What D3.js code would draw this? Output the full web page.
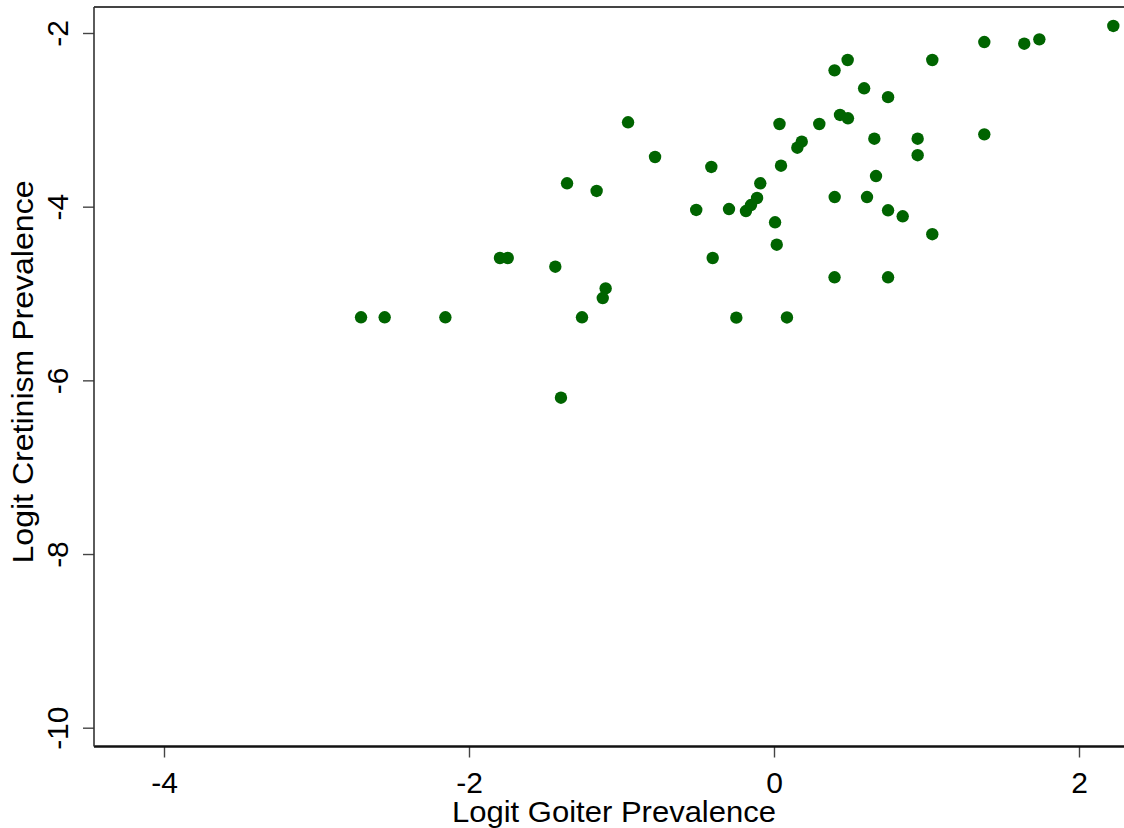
<!DOCTYPE html>
<html>
<head>
<meta charset="utf-8">
<script src="https://cdn.jsdelivr.net/npm/d3@7"></script>
<style>
  html, body { margin: 0; padding: 0; background: #fff; }
  svg { display: block; }
  text { font-family: "Liberation Sans", Arial, sans-serif; fill: #000; }
</style>
</head>
<body>
<svg id="chart" width="1124" height="828"></svg>
<script>
// Data (logit goiter prevalence, logit cretinism prevalence)
const goiter = [
  -2.708, -2.553, -2.155, -1.797, -1.746, -1.434, -1.357, -1.163, -1.104, -1.123,
  -1.259, -1.397, -0.957, -0.780, -0.510, -0.411, -0.402, -0.295, -0.247, -0.184,
  -0.151, -0.111, -0.090, 0.007, 0.018, 0.036, 0.046, 0.085, 0.153, 0.182,
  0.297, 0.397, 0.483, 0.433, 0.485, 0.398, 0.397, 0.591, 0.658, 0.669,
  0.610, 0.748, 0.748, 0.748, 0.844, 0.942, 0.942, 1.038, 1.038, 1.379,
  1.379, 1.641, 1.740, 2.225
];
const cretinism = [
  -5.274, -5.274, -5.274, -4.591, -4.591, -4.691, -3.731, -3.819, -4.942, -5.052,
  -5.274, -6.200, -3.028, -3.428, -4.038, -3.543, -4.591, -4.027, -5.278, -4.050,
  -3.981, -3.900, -3.731, -4.180, -4.438, -3.048, -3.528, -5.276, -3.321, -3.252,
  -3.048, -2.430, -2.311, -2.944, -2.982, -3.889, -4.813, -2.637, -3.217, -3.647,
  -3.889, -2.739, -4.042, -4.813, -4.111, -3.217, -3.407, -2.311, -4.317, -2.104,
  -3.167, -2.123, -2.073, -1.919
];
const xTicks = [-4, -2, 0, 2];
const yTicks = [-2, -4, -6, -8, -10];
const xTitle = "Logit Goiter Prevalence";
const yTitle = "Logit Cretinism Prevalence";

const svg = d3.select("#chart");
const pLeft = 94, pRight = 1124, pTop = 7, pBottom = 746.5;

const x = d3.scaleLinear().domain([-4, 2]).range([164, 1079]);
const y = d3.scaleLinear().domain([-2, -10]).range([33, 727.7]);

// frame: top border
svg.append("line")
  .attr("x1", pLeft).attr("x2", pRight).attr("y1", pTop).attr("y2", pTop)
  .attr("stroke", "#444").attr("stroke-width", 1.8);

// x axis
const xAxis = d3.axisBottom(x).tickValues(xTicks).tickSize(11).tickSizeOuter(0)
  .tickFormat(d => d < 0 ? "-" + Math.abs(d) : String(d));
const gx = svg.append("g").attr("transform", `translate(0,${pBottom})`).call(xAxis);
gx.select(".domain").remove();
gx.selectAll(".tick line").attr("stroke", "#444").attr("stroke-width", 1.4);
gx.selectAll(".tick text").attr("font-size", 30).attr("dy", null).attr("y", 46)
  .attr("font-family", "Liberation Sans, Arial, sans-serif").attr("fill", "#000");
svg.append("line")
  .attr("x1", pLeft).attr("x2", pRight).attr("y1", pBottom).attr("y2", pBottom)
  .attr("stroke", "#111").attr("stroke-width", 2.6);

// y axis
const yAxis = d3.axisLeft(y).tickValues(yTicks).tickSize(11).tickSizeOuter(0)
  .tickFormat(d => d < 0 ? "-" + Math.abs(d) : String(d));
const gy = svg.append("g").attr("transform", `translate(${pLeft},0)`).call(yAxis);
gy.select(".domain").remove();
gy.selectAll(".tick line").attr("stroke", "#444").attr("stroke-width", 1.4);
gy.selectAll(".tick text")
  .attr("x", null).attr("dy", null)
  .attr("transform", `translate(${68 - pLeft},0) rotate(-90)`)
  .attr("text-anchor", "middle")
  .attr("font-size", 30)
  .attr("font-family", "Liberation Sans, Arial, sans-serif").attr("fill", "#000");
svg.append("line")
  .attr("x1", pLeft).attr("x2", pLeft).attr("y1", pTop).attr("y2", pBottom)
  .attr("stroke", "#333").attr("stroke-width", 1.6);

// titles
svg.append("text").attr("x", 614).attr("y", 821.5).attr("text-anchor", "middle")
  .attr("font-size", 30).attr("textLength", 324).attr("lengthAdjust", "spacingAndGlyphs")
  .text(xTitle);
svg.append("text").attr("transform", "translate(33,372) rotate(-90)")
  .attr("text-anchor", "middle").attr("font-size", 30)
  .attr("textLength", 383).attr("lengthAdjust", "spacingAndGlyphs")
  .text(yTitle);

// points
const pts = goiter.map((g, i) => ({ g, c: cretinism[i] }));
svg.append("g").selectAll("circle").data(pts).join("circle")
  .attr("cx", d => x(d.g)).attr("cy", d => y(d.c)).attr("r", 6.2)
  .attr("fill", "#006400");
</script>
</body>
</html>
